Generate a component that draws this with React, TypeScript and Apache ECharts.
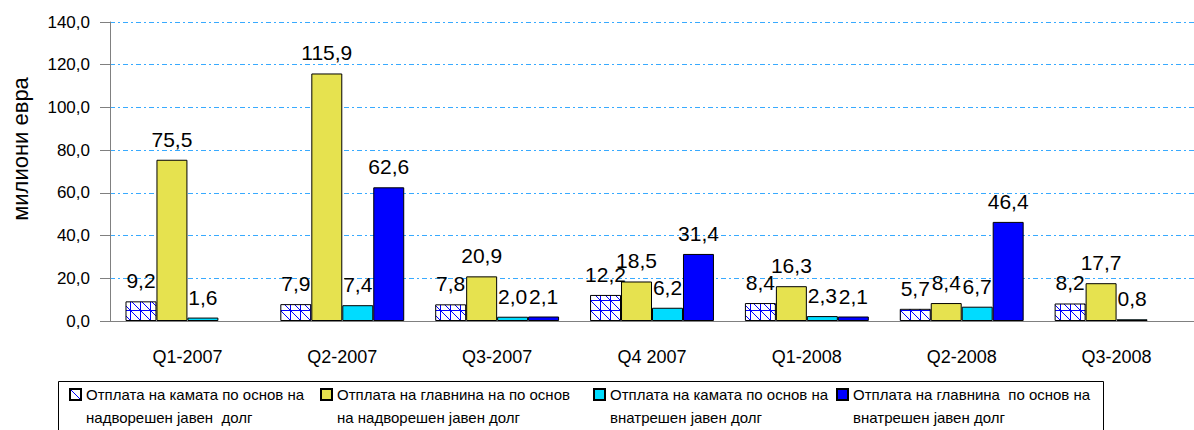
import React, { useEffect, useRef } from "react";
import * as echarts from "echarts";

const categories = ["Q1-2007", "Q2-2007", "Q3-2007", "Q4 2007", "Q1-2008", "Q2-2008", "Q3-2008"];
const seriesNames = [
  "Отплата на камата по основ на\nнадворешен јавен  долг",
  "Отплата на главнина на по основ\nна надворешен јавен долг",
  "Отплата на камата по основ на\nвнатрешен јавен долг",
  "Отплата на главнина  по основ на\nвнатрешен јавен долг",
];
const interestExternal = [9.2, 7.9, 7.8, 12.2, 8.4, 5.7, 8.2];
const principalExternal = [75.5, 115.9, 20.9, 18.5, 16.3, 8.4, 17.7];
const interestDomestic = [1.6, 7.4, 2.0, 6.2, 2.3, 6.7, 0.8];
const principalDomestic = [null, 62.6, 2.1, 31.4, 2.1, 46.4, null];
const yTicks = [0, 20, 40, 60, 80, 100, 120, 140];

const FONT = "'Liberation Sans', Arial, sans-serif";

function makeHatch(): HTMLCanvasElement {
  const c = document.createElement("canvas");
  c.width = 10;
  c.height = 10;
  const ctx = c.getContext("2d")!;
  ctx.fillStyle = "#ffffff";
  ctx.fillRect(0, 0, 10, 10);
  ctx.strokeStyle = "#0000ff";
  ctx.lineWidth = 1;
  ctx.beginPath();
  ctx.moveTo(0.5, 0);
  ctx.lineTo(0.5, 10);
  ctx.moveTo(0, 0.5);
  ctx.lineTo(10, 0.5);
  ctx.moveTo(0, 0);
  ctx.lineTo(10, 10);
  ctx.stroke();
  return c;
}

export default function App() {
  const ref = useRef<HTMLDivElement>(null);
  useEffect(() => {
    if (!ref.current) return;
    const chart = echarts.init(ref.current, undefined, { renderer: "svg" });
    const hatch = { image: makeHatch(), repeat: "repeat" } as any;
    const colors = [hatch, "#e6e24f", "#00dcff", "#0000ff"];
    const data = [interestExternal, principalExternal, interestDomestic, principalDomestic];
    const fmt = (v: number) => v.toFixed(1).replace(".", ",");
    const legendLefts = [69, 320, 593, 836];
    const option: any = {
      animation: false,
      textStyle: { fontFamily: FONT },
      grid: { left: 110, top: 22, width: 1094, height: 299, containLabel: false },
      xAxis: {
        type: "category",
        data: categories,
        axisLine: { lineStyle: { color: "#808080", width: 1 } },
        axisTick: { alignWithLabel: true, length: 8, lineStyle: { color: "#808080" } },
        axisLabel: { color: "#000", fontSize: 18, margin: 27, fontFamily: FONT },
      },
      yAxis: {
        type: "value",
        min: 0,
        max: 140,
        interval: 20,
        axisLine: { show: true, lineStyle: { color: "#808080" } },
        axisTick: { show: true, inside: false, length: 10, lineStyle: { color: "#808080" } },
        axisLabel: {
          color: "#000",
          fontSize: 17,
          margin: 20,
          fontFamily: FONT,
          formatter: (v: number) => (yTicks.includes(v) ? fmt(v) : ""),
        },
        splitLine: {
          show: true,
          lineStyle: { color: "#38aaff", type: [5, 3, 2, 3], width: 1 },
        },
      },
      legend: seriesNames.map((n, i) => ({
        data: [n],
        left: legendLefts[i],
        top: 360,
        padding: 0,
        itemWidth: 11,
        itemHeight: 11,
        itemGap: 0,
        itemTextGap: 7,
        icon: "rect",
        selectedMode: false,
        formatter: (name: string) => "\n" + name,
        textStyle: {
          color: "#000",
          fontSize: 15,
          fontFamily: FONT,
          lineHeight: 23,
        },
      })),
      graphic: [
        {
          type: "rect",
          shape: { x: 58.5, y: 381.5, width: 1045, height: 60 },
          style: { fill: "none", stroke: "#000", lineWidth: 1 },
          z: -1,
        },
        {
          type: "text",
          x: 20,
          y: 149,
          rotation: Math.PI / 2,
          style: {
            text: "милиони евра",
            font: `22px ${FONT}`,
            fill: "#000",
            align: "center",
            verticalAlign: "middle",
          },
        },
      ],
      series: seriesNames.map((n, i) => ({
        name: n,
        type: "bar",
        data: data[i],
        barGap: "0%",
        barCategoryGap: "20%",
        itemStyle: { color: colors[i], borderColor: "#000", borderWidth: 1 },
        label: {
          show: true,
          position: "top",
          distance: 10,
          color: "#000",
          fontSize: 21,
          fontFamily: FONT,
          formatter: (p: any) => (p.value == null ? "" : fmt(p.value)),
        },
      })),
    };
    chart.setOption(option);
    return () => chart.dispose();
  }, []);
  return (
    <div
      ref={ref}
      style={{ position: "fixed", left: 0, top: 0, width: 1194, height: 430, background: "#fff" }}
    />
  );
}
